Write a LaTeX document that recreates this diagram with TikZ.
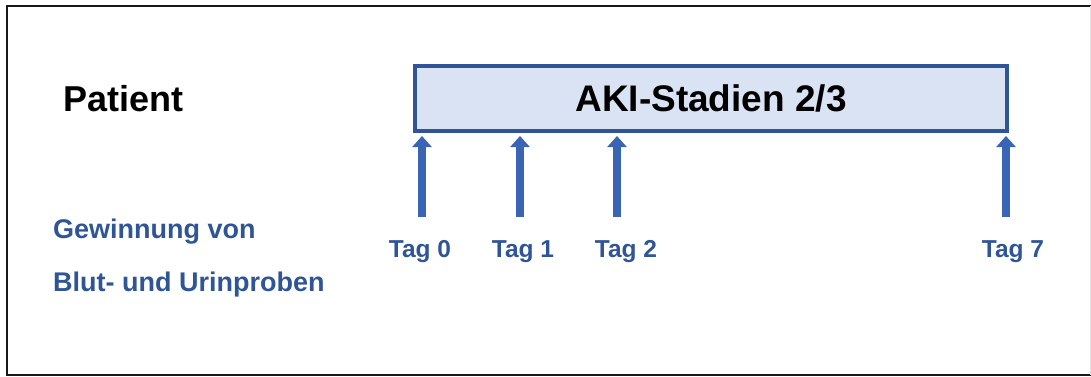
\documentclass[tikz,border=0pt]{standalone}
\usepackage{fontspec}
\setmainfont{Liberation Sans}
\usetikzlibrary{arrows.meta}
\definecolor{boxfill}{HTML}{DAE3F3}
\definecolor{boxline}{HTML}{2F5597}
\definecolor{txtblue}{HTML}{2F5597}
\definecolor{arrfill}{HTML}{3A64B4}
\tikzset{
  stagebox/.style={draw=boxline, fill=boxfill, line width=4pt, minimum width=592pt, minimum height=65pt,
    inner sep=0pt, text height=26.5pt, text depth=0pt, font=\bfseries\fontsize{37}{44}\selectfont},
  toplabel/.style={anchor=base west, inner sep=0pt, font=\bfseries\fontsize{36}{43}\selectfont},
  bluelabel/.style={anchor=base west, inner sep=0pt, text=txtblue, font=\bfseries\fontsize{27}{32}\selectfont},
  taglabel/.style={anchor=base, inner sep=0pt, text=txtblue, font=\bfseries\fontsize{24.5}{30}\selectfont},
  samplearrow/.style={draw=arrfill, line width=8pt, shorten >=3pt,
    -{Triangle[width=19pt,length=11pt]}},
}
\begin{document}
\begin{tikzpicture}[x=1pt,y=-1pt]
\useasboundingbox (0,0) rectangle (1091,376);
% frame
\draw[line width=2pt, black!90] (1091,6) -- (7,6) -- (7,375) -- (1091,375);
\draw[line width=1pt, black!10] (1090,6) -- (1090,375);
% box
\node[stagebox] (box) at (711,98.5) {AKI-Stadien 2/3};
% labels
\node[toplabel] (patient) at (63,111) {Patient};
\node[bluelabel] (gew) at (53,238) {Gewinnung von};
\node[bluelabel] (blut) at (53,291) {Blut- und Urinproben};
% arrows
\coordinate (s0) at (422,217);
\coordinate (s1) at (520,217);
\coordinate (s2) at (617,217);
\coordinate (s7) at (1006,217);
\foreach \s in {s0,s1,s2,s7}{
  \draw[samplearrow] (\s) -- (\s |- box.south);
}
\node[taglabel] (t0) at (420,257) {Tag 0};
\node[taglabel] (t1) at (523,257) {Tag 1};
\node[taglabel] (t2) at (626,257) {Tag 2};
\node[taglabel] (t7) at (1013,257) {Tag 7};
\end{tikzpicture}
\end{document}
